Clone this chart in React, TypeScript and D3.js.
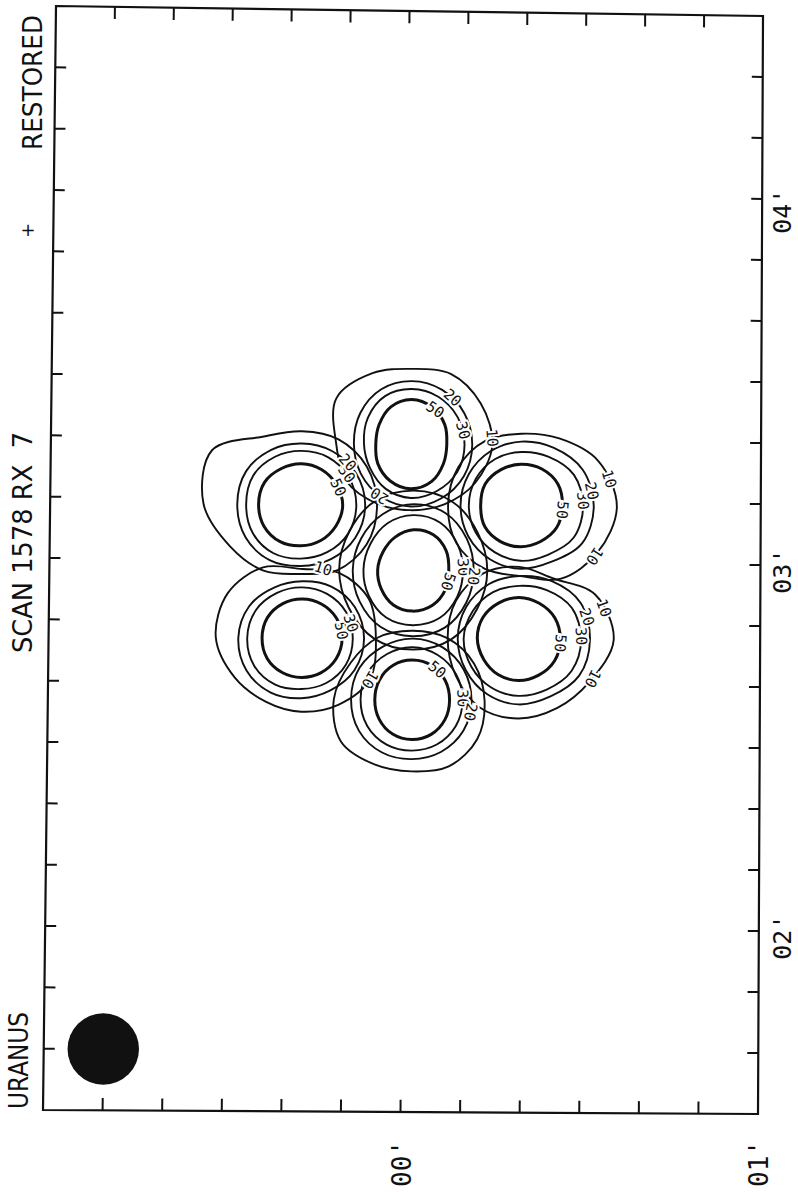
import * as d3 from "d3";

// scanned frame corners (tl, tr, br, bl) - the plot is slightly skewed on the page
const frameCorners = [[56, 6], [763, 16], [758, 1114], [43, 1110]];

// offsets in arcsec
const uDomain = [-10, 110];
const vDomain = [-10, 170];

const rightLabels = ["04'", "03'", "02'"];
const rightLabelV = [22, 81, 141];
const bottomLabels = ["00'", "01'"];
const bottomLabelU = [50, 110];

// 7 receiver beams: C, T, B, UL, UR, LL, LR
const beamU = [51.4, 50.9, 51.4, 32.4, 69.5, 32.7, 69.3];
const beamV = [81.4, 60.8, 102.6, 70.9, 70.7, 92.7, 92.5];

const contourLevels = [50, 30, 20, 10];
const spokeAngles = [0, 30, 60, 90, 120, 150, 180, 210, 240, 270, 300, 330];

// contour radius (arcsec) along each spoke, per beam
const radii50 = [
  [6.0, 6.3, 6.6, 6.7, 6.6, 6.2, 6.0, 5.9, 6.2, 6.6, 6.7, 6.4],
  [6.0, 6.3, 7.0, 7.3, 7.0, 6.5, 6.0, 6.3, 7.0, 7.3, 7.0, 6.5],
  [6.3, 6.4, 6.5, 6.5, 6.5, 6.4, 6.3, 6.4, 6.5, 6.5, 6.5, 6.4],
  [7.0, 6.8, 6.7, 6.7, 7.0, 7.2, 7.2, 7.2, 6.8, 6.7, 6.7, 6.8],
  [7.0, 7.0, 6.7, 6.7, 6.8, 7.0, 6.8, 7.0, 6.8, 6.8, 7.0, 7.2],
  [6.8, 6.7, 6.5, 6.4, 6.5, 6.7, 6.7, 6.7, 6.5, 6.4, 6.5, 6.7],
  [7.0, 7.0, 6.8, 6.8, 6.8, 6.8, 7.0, 7.0, 6.8, 6.8, 6.8, 7.0],
];
const radii30 = [
  [8.4, 8.6, 9.0, 9.0, 9.0, 8.6, 8.4, 8.4, 8.8, 9.0, 9.0, 8.6],
  [9.0, 9.0, 8.8, 8.8, 8.5, 8.0, 8.0, 8.5, 9.0, 9.0, 9.0, 9.0],
  [8.5, 8.5, 8.4, 8.3, 8.5, 8.7, 8.7, 8.7, 8.6, 8.6, 8.5, 8.5],
  [9.3, 9.2, 8.9, 8.8, 9.2, 9.4, 9.3, 9.4, 9.0, 8.8, 9.0, 9.2],
  [10.5, 10.3, 9.2, 9.0, 8.8, 8.8, 8.8, 8.8, 8.8, 8.8, 9.3, 10.3],
  [8.6, 8.6, 8.4, 8.3, 8.8, 9.2, 9.2, 9.0, 8.5, 8.3, 8.4, 8.6],
  [10.5, 10.3, 9.5, 9.3, 9.2, 9.2, 9.3, 9.0, 8.8, 8.7, 9.3, 10.3],
];
const radii20 = [
  [10.2, 10.4, 10.8, 10.8, 10.8, 10.4, 10.2, 10.2, 10.5, 10.8, 10.8, 10.4],
  [10.3, 10.3, 10.2, 10.2, 10.0, 9.8, 9.7, 10.0, 10.3, 10.3, 10.3, 10.3],
  [10.0, 10.0, 9.8, 9.7, 10.0, 10.3, 10.3, 10.3, 10.0, 10.0, 10.0, 10.0],
  [10.8, 10.6, 10.2, 10.0, 10.5, 10.8, 10.8, 10.8, 10.3, 10.0, 10.2, 10.6],
  [12.3, 12.0, 10.5, 10.3, 10.2, 10.2, 10.2, 10.2, 10.3, 10.5, 11.0, 12.0],
  [10.5, 10.3, 9.8, 9.8, 10.3, 10.7, 10.7, 10.3, 9.5, 9.3, 9.8, 10.3],
  [12.0, 11.8, 10.8, 10.7, 10.5, 10.3, 10.3, 10.3, 10.3, 10.3, 11.0, 12.0],
];
const radii10 = [
  [12.5, 12.5, 13.0, 13.0, 13.0, 12.5, 12.5, 12.5, 13.0, 13.0, 13.0, 12.5],
  [13.7, 12.5, 11.3, 10.8, 11.3, 12.5, 12.7, 14.7, 13.3, 12.3, 13.3, 13.5],
  [12.2, 12.7, 12.5, 11.7, 12.3, 13.8, 13.2, 12.0, 11.7, 11.3, 11.7, 12.0],
  [12.8, 12.8, 12.3, 11.3, 12.5, 13.8, 16.5, 17.5, 12.8, 12.0, 12.4, 12.7],
  [16.2, 15.0, 13.7, 11.5, 12.0, 12.5, 12.3, 12.3, 12.2, 11.8, 12.8, 15.0],
  [12.5, 13.3, 12.5, 12.0, 12.0, 13.0, 14.5, 14.5, 13.3, 11.3, 12.4, 13.0],
  [16.0, 13.8, 13.0, 13.0, 13.0, 12.2, 12.0, 12.3, 12.3, 11.8, 11.5, 14.8],
];
const radiiByLevel = [radii50, radii30, radii20, radii10];

// contour labels: [beam, level, angle]
const contourLabels: [number, number, number][] = [
  [1, 50, 305], [1, 20, 312], [1, 30, 345], [1, 10, 355], [1, 20, 122],
  [3, 50, 335], [3, 30, 326], [3, 20, 318],
  [0, 50, 17], [0, 30, 356], [0, 20, 5],
  [4, 50, 5], [4, 30, 355], [4, 20, 348], [4, 10, 343], [4, 10, 33],
  [6, 50, 5], [6, 30, 357], [6, 20, 342], [6, 10, 340], [6, 10, 27],
  [5, 50, 349], [5, 30, 343], [5, 10, 287], [5, 10, 30],
  [2, 50, 310], [2, 30, 358], [2, 20, 11],
];

// restoring beam, drawn at the corner
const beamSpot = { u: 0, v: 160, r: 6 };

const ink = "#111";

export default function App() {
  const sx = d3.scaleLinear(uDomain, [0, 1]);
  const sy = d3.scaleLinear(vDomain, [0, 1]);
  const [tl, tr, br, bl] = frameCorners;

  // bilinear map from arcsec offsets onto the scanned frame
  const P = (u: number, v: number): [number, number] => {
    const a = sx(u), b = sy(v);
    const tx = tl[0] + (tr[0] - tl[0]) * a, ty = tl[1] + (tr[1] - tl[1]) * a;
    const bx = bl[0] + (br[0] - bl[0]) * a, by = bl[1] + (br[1] - bl[1]) * a;
    return [tx + (bx - tx) * b, ty + (by - ty) * b];
  };

  const radiusAt = (arr: number[], ang: number) => {
    const t = (((ang % 360) + 360) % 360) / 30;
    const i = Math.floor(t), f = t - i;
    return arr[i % 12] * (1 - f) + arr[(i + 1) % 12] * f;
  };

  const line = d3.line().curve(d3.curveCatmullRomClosed.alpha(0.5));
  const uTicks = d3.scaleLinear([0, 100], [0, 1]).ticks(10);
  const vTicks = d3.scaleLinear([0, 160], [0, 1]).ticks(16);

  const frame = [P(-10, -10), P(110, -10), P(110, 170), P(-10, 170)];

  const contours = [];
  beamU.forEach((u, bi) => {
    const v = beamV[bi];
    contourLevels.forEach((lev, li) => {
      const r = radiiByLevel[li][bi];
      const pts = spokeAngles.map((a, k) => {
        const rad = (a * Math.PI) / 180;
        return P(u + r[k] * Math.cos(rad), v + r[k] * Math.sin(rad));
      });
      contours.push(
        <path key={`c${bi}-${lev}`} d={line(pts)} fill="none" stroke={ink}
          strokeWidth={lev === 50 ? 3 : 1.9} strokeLinejoin="round" />
      );
    });
  });

  const labels = contourLabels.map(([bi, lev, ang], i) => {
    const li = contourLevels.indexOf(lev);
    const r = radiusAt(radiiByLevel[li][bi], ang);
    const rad = (ang * Math.PI) / 180;
    const [x, y] = P(beamU[bi] + r * Math.cos(rad), beamV[bi] + r * Math.sin(rad));
    return (
      <text key={`l${i}`} transform={`translate(${x},${y}) rotate(${ang + 90})`}
        textAnchor="middle" dominantBaseline="central" fontSize={15}
        fontFamily="'DejaVu Sans Mono', monospace" fill={ink}
        stroke="#fff" strokeWidth={4} paintOrder="stroke">{lev}</text>
    );
  });

  const [bx, by] = P(beamSpot.u, beamSpot.v);
  const bR = P(beamSpot.u + beamSpot.r, beamSpot.v)[0] - bx;

  const axisFont = "'DejaVu Sans Mono', monospace";
  const titleFont = "'DejaVu Sans', sans-serif";

  return (
    <svg width={798} height={1192} style={{ position: "absolute", left: 0, top: 0, background: "#fff" }}>
      <rect width={798} height={1192} fill="#fff" />
      <path d={`M${frame.map((p) => p.join(",")).join("L")}Z`} fill="none" stroke={ink} strokeWidth={2.2} />
      <g stroke={ink} strokeWidth={2}>
        {uTicks.map((u) => {
          const a = P(u, -10), b = P(u, -8), c = P(u, 170), d = P(u, 168);
          return (
            <g key={`ut${u}`}>
              <line x1={a[0]} y1={a[1]} x2={b[0]} y2={b[1]} />
              <line x1={c[0]} y1={c[1]} x2={d[0]} y2={d[1]} />
            </g>
          );
        })}
        {vTicks.map((v) => {
          const a = P(-10, v), b = P(-8.15, v), c = P(110, v), d = P(108.15, v);
          return (
            <g key={`vt${v}`}>
              <line x1={a[0]} y1={a[1]} x2={b[0]} y2={b[1]} />
              <line x1={c[0]} y1={c[1]} x2={d[0]} y2={d[1]} />
            </g>
          );
        })}
      </g>

      {contours}
      {labels}

      <circle cx={bx} cy={by} r={bR} fill={ink} />

      {rightLabels.map((t, i) => {
        const y = P(110, rightLabelV[i])[1];
        return (
          <text key={t} transform={`translate(791,${y}) rotate(-90)`} textAnchor="middle"
            fontSize={25} fontFamily={axisFont} fill={ink}>{t}</text>
        );
      })}
      {bottomLabels.map((t, i) => {
        const x = P(bottomLabelU[i], 170)[0] + 10;
        return (
          <text key={t} transform={`translate(${x},1187) rotate(-90)`} textAnchor="start"
            fontSize={26} fontFamily={axisFont} fill={ink}>{t}</text>
        );
      })}

      <text transform="translate(42,150) rotate(-90)" fontSize={27} fontFamily={titleFont}
        fill={ink} textLength={135} lengthAdjust="spacingAndGlyphs">RESTORED</text>
      <text x={28} y={236} textAnchor="middle" fontSize={18} fontFamily={titleFont} fill={ink}>+</text>
      <text transform="translate(32,653) rotate(-90)" fontSize={27} fontFamily={titleFont}
        fill={ink} textLength={221} lengthAdjust="spacingAndGlyphs" style={{ whiteSpace: "pre" }}>
        {"SCAN 1578 RX  7"}
      </text>
      <text transform="translate(28,1109) rotate(-90)" fontSize={27} fontFamily={titleFont}
        fill={ink} textLength={97} lengthAdjust="spacingAndGlyphs">URANUS</text>
    </svg>
  );
}
